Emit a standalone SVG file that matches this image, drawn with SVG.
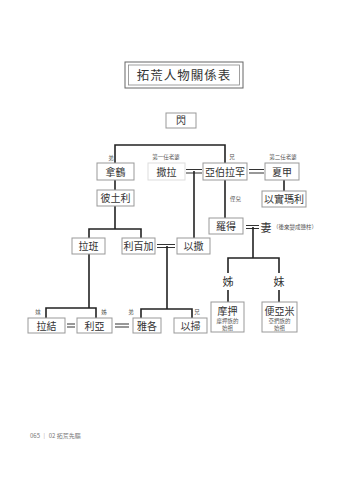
<svg xmlns="http://www.w3.org/2000/svg" width="343" height="480" viewBox="0 0 343 480">
<style>
.bx{fill:#fff;stroke:#999;stroke-width:1}
.lt{fill:#fff;stroke:#ddd;stroke-width:1}
.t{font-family:"Noto Sans CJK TC","Noto Sans CJK SC",sans-serif;font-size:10px;fill:#333;text-anchor:middle}
.s{font-family:"Noto Sans CJK TC","Noto Sans CJK SC",sans-serif;font-size:5.5px;fill:#555;text-anchor:middle}
.c{fill:none;stroke:#222;stroke-width:1.6}
.eq{fill:none;stroke:#333;stroke-width:1.2}
</style>
<rect width="343" height="480" fill="#fff"/>
<g id="title">
<rect x="125" y="62" width="118" height="26" fill="#fff" stroke="#666" stroke-width="1"/>
<rect x="128.5" y="65" width="111" height="20" fill="none" stroke="#888" stroke-width="0.8"/>
<text x="184" y="80" class="t" style="font-size:12.5px;letter-spacing:1px">拓荒人物關係表</text>
</g>
<g id="connectors">
<path class="c" d="M115,163V145H225V163"/>
<path class="c" d="M115,180V190"/>
<path class="c" d="M115,206V229M89,238V229H141V238"/>
<path class="eq" d="M186,169.5H202M186,173H202"/>
<path class="c" d="M194,171V238"/>
<path class="eq" d="M249,169.5H264M249,173H264"/>
<path class="c" d="M284,180V191"/>
<path class="c" d="M225,180V218"/>
<path class="eq" d="M246,225.5H259M246,228.5H259"/>
<path class="c" d="M253,227V258M228,273V258H279V273M228,290V302M279,290V302"/>
<path class="eq" d="M157,244.5H175M157,247.5H175"/>
<path class="c" d="M167,246V309M141,318V309H192V318"/>
<path class="c" d="M89,254V308M46,318V308H96V318"/>
<path class="eq" d="M67,324H75M67,327H75"/>
<path class="eq" d="M115,324H129M115,327H129"/>
</g>
<g id="n-shem"><rect class="bx" x="166" y="113" width="30" height="15"/><text class="t" x="181" y="124">閃</text></g>
<g id="n-nahor"><rect class="bx" x="97" y="163" width="37" height="17"/><text class="t" x="115.5" y="175.5">拿鶴</text><text class="s" x="111" y="160">弟</text></g>
<g id="n-sarah"><rect class="lt" x="148" y="163" width="37" height="17"/><text class="t" x="166.5" y="175.5">撒拉</text><text class="s" x="166" y="159">第一任老婆</text></g>
<g id="n-abraham"><rect class="bx" x="203" y="163" width="44" height="17"/><text class="t" x="225" y="175.5">亞伯拉罕</text><text class="s" x="232" y="159">兄</text></g>
<g id="n-hagar"><rect class="bx" x="265" y="163" width="34" height="17"/><text class="t" x="282" y="175.5">夏甲</text><text class="s" x="283" y="159">第二任老婆</text></g>
<g id="n-bethuel"><rect class="bx" x="97" y="190" width="37" height="16"/><text class="t" x="115.5" y="202">彼土利</text></g>
<g id="n-ishmael"><rect class="bx" x="262" y="191" width="44" height="16"/><text class="t" x="284" y="203">以實瑪利</text></g>
<g id="n-laban"><rect class="bx" x="72" y="238" width="33" height="16"/><text class="t" x="88.5" y="250">拉班</text></g>
<g id="n-rebekah"><rect class="bx" x="122" y="238" width="33" height="16"/><text class="t" x="138.5" y="250">利百加</text></g>
<g id="n-isaac"><rect class="bx" x="177" y="238" width="33" height="16"/><text class="t" x="193.5" y="250">以撒</text></g>
<g id="n-lot"><rect class="bx" x="209" y="218" width="34" height="16"/><text class="t" x="226" y="230">羅得</text><text class="s" x="230" y="201" style="text-anchor:start">侄兒</text></g>
<g id="n-wife"><text class="t" x="266" y="231.5" style="font-size:11px">妻</text><text class="s" x="273" y="229" style="text-anchor:start">（後來變成鹽柱）</text></g>
<g id="n-elder"><text class="t" x="228" y="285.5" style="font-size:11px">姊</text></g>
<g id="n-younger"><text class="t" x="279" y="285.5" style="font-size:11px">妹</text></g>
<g id="n-moab"><rect class="bx" x="211" y="302" width="33" height="30"/><text class="t" x="227.5" y="315">摩押</text><text class="s" x="227.5" y="323">摩押族的</text><text class="s" x="227.5" y="330">始祖</text></g>
<g id="n-benammi"><rect class="bx" x="262" y="302" width="35" height="30"/><text class="t" x="279.5" y="315">便亞米</text><text class="s" x="279.5" y="323">亞捫族的</text><text class="s" x="279.5" y="330">始祖</text></g>
<g id="n-rachel"><rect class="bx" x="28" y="318" width="37" height="15"/><text class="t" x="46.5" y="329.5">拉結</text><text class="s" x="38" y="314">妹</text></g>
<g id="n-leah"><rect class="bx" x="77" y="318" width="35" height="15"/><text class="t" x="94.5" y="329.5">利亞</text><text class="s" x="104" y="314">姊</text></g>
<g id="n-jacob"><rect class="bx" x="133" y="318" width="28" height="15"/><text class="t" x="147" y="329.5">雅各</text><text class="s" x="131" y="314">弟</text></g>
<g id="n-esau"><rect class="bx" x="174" y="318" width="33" height="15"/><text class="t" x="190.5" y="329.5">以掃</text><text class="s" x="197" y="314">兄</text></g>
<g id="footer"><text x="30" y="438" style="font-family:'Noto Sans CJK TC',sans-serif;font-size:6px;fill:#777">065 ｜ 02 拓荒先驅</text></g>
</svg>
